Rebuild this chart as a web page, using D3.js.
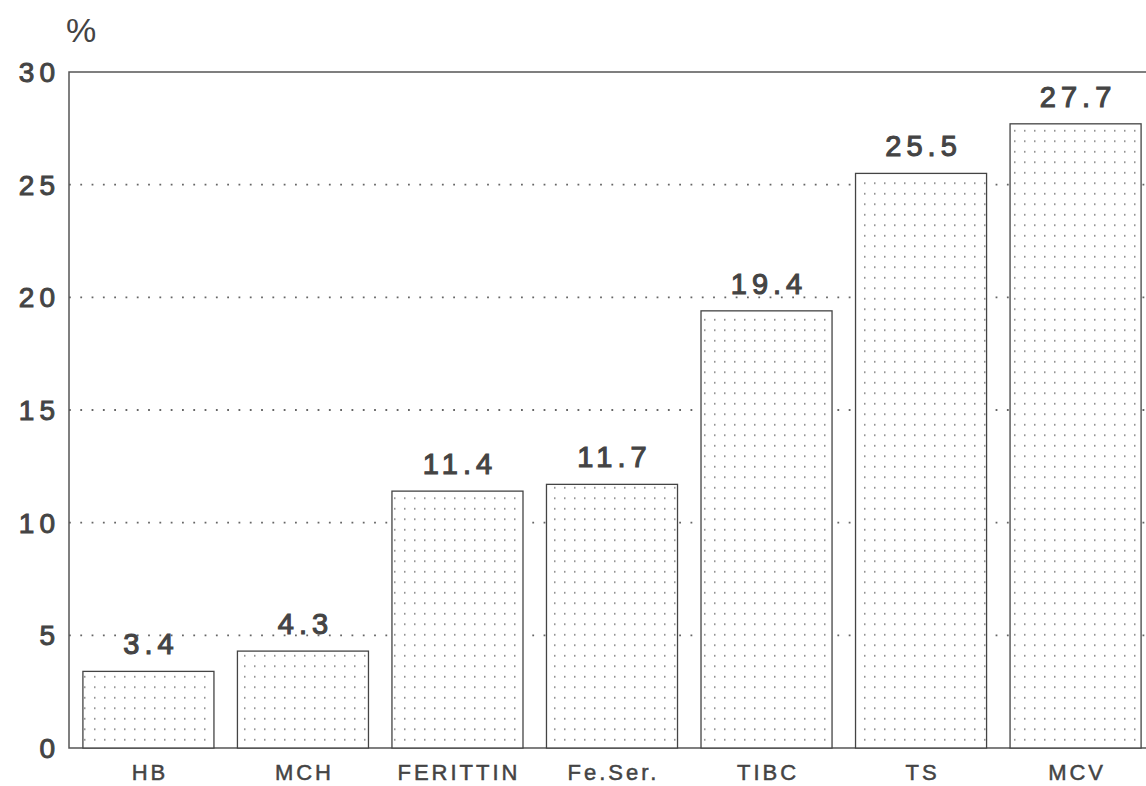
<!DOCTYPE html>
<html>
<head>
<meta charset="utf-8">
<script src="https://cdn.jsdelivr.net/npm/d3@7"></script>
<style>
  body { margin: 0; background: #fff; }
  svg { display: block; font-family: "Liberation Sans", Arial, sans-serif; }
</style>
</head>
<body>
<div id="chart"></div>
<script>
// Values
const categories = ["HB", "MCH", "FERITTIN", "Fe.Ser.", "TIBC", "TS", "MCV"];
const percents = [3.4, 4.3, 11.4, 11.7, 19.4, 25.5, 27.7];
const yTicks = [0, 5, 10, 15, 20, 25, 30];

const width = 1146, height = 786;
const plot = { left: 69, right: 1146, top: 72, bottom: 748 };

const svg = d3.select("#chart").append("svg")
  .attr("width", width).attr("height", height);

// dotted fill for the bars
const defs = svg.append("defs");
const pat = defs.append("pattern")
  .attr("id", "dots")
  .attr("patternUnits", "userSpaceOnUse")
  .attr("width", 10).attr("height", 10.5);
pat.append("rect").attr("width", 10).attr("height", 10.5).attr("fill", "#fff");
pat.append("rect").attr("x", 4).attr("y", 4).attr("width", 1.5).attr("height", 1.5).attr("fill", "#777");

const x = d3.scaleBand()
  .domain(categories)
  .range([plot.left, 1155])
  .paddingInner(0.152)
  .paddingOuter(0.09);

const y = d3.scaleLinear().domain([0, 30]).range([plot.bottom, plot.top]);

// dotted gridlines
svg.append("g")
  .selectAll("line")
  .data(yTicks.filter(d => d > 0 && d < 30))
  .enter().append("line")
  .attr("x1", plot.left).attr("x2", plot.right)
  .attr("y1", d => y(d)).attr("y2", d => y(d))
  .attr("stroke", "#666")
  .attr("stroke-width", 1.8)
  .attr("stroke-dasharray", "1.8 9.5");

// frame: left, top, bottom
svg.append("path")
  .attr("d", `M${plot.right},${plot.top}H${plot.left}V${plot.bottom}H${plot.right}`)
  .attr("fill", "none")
  .attr("stroke", "#555")
  .attr("stroke-width", 1.5);

// bars
svg.append("g")
  .selectAll("rect")
  .data(percents)
  .enter().append("rect")
  .attr("x", (d, i) => x(categories[i]))
  .attr("y", d => y(d))
  .attr("width", x.bandwidth())
  .attr("height", d => y(0) - y(d))
  .attr("fill", "url(#dots)")
  .attr("stroke", "#444")
  .attr("stroke-width", 1.3);

// value labels
svg.append("g")
  .selectAll("text")
  .data(percents)
  .enter().append("text")
  .attr("x", (d, i) => x(categories[i]) + x.bandwidth() / 2 + 2.5)
  .attr("y", d => y(d) - 17)
  .attr("text-anchor", "middle")
  .attr("font-size", 29)
  .attr("letter-spacing", 5)
  .attr("fill", "#444")
  .attr("stroke", "#444")
  .attr("stroke-width", 1.1)
  .text(d => d.toFixed(1));

// y tick labels
svg.append("g")
  .selectAll("text")
  .data(yTicks)
  .enter().append("text")
  .attr("x", 60)
  .attr("y", d => y(d) + 10)
  .attr("text-anchor", "end")
  .attr("font-size", 28)
  .attr("letter-spacing", 5)
  .attr("fill", "#444")
  .attr("stroke", "#444")
  .attr("stroke-width", 1)
  .text(d => d);

// category labels
svg.append("g")
  .selectAll("text")
  .data(categories)
  .enter().append("text")
  .attr("x", d => x(d) + x.bandwidth() / 2 + 1.5)
  .attr("y", 780)
  .attr("text-anchor", "middle")
  .attr("font-size", 22)
  .attr("letter-spacing", 3)
  .attr("fill", "#444")
  .attr("stroke", "#444")
  .attr("stroke-width", 0.5)
  .text(d => d);

// unit label
svg.append("text")
  .attr("x", 66).attr("y", 42)
  .attr("font-size", 34)
  .attr("fill", "#444")
  .text("%");
</script>
</body>
</html>
